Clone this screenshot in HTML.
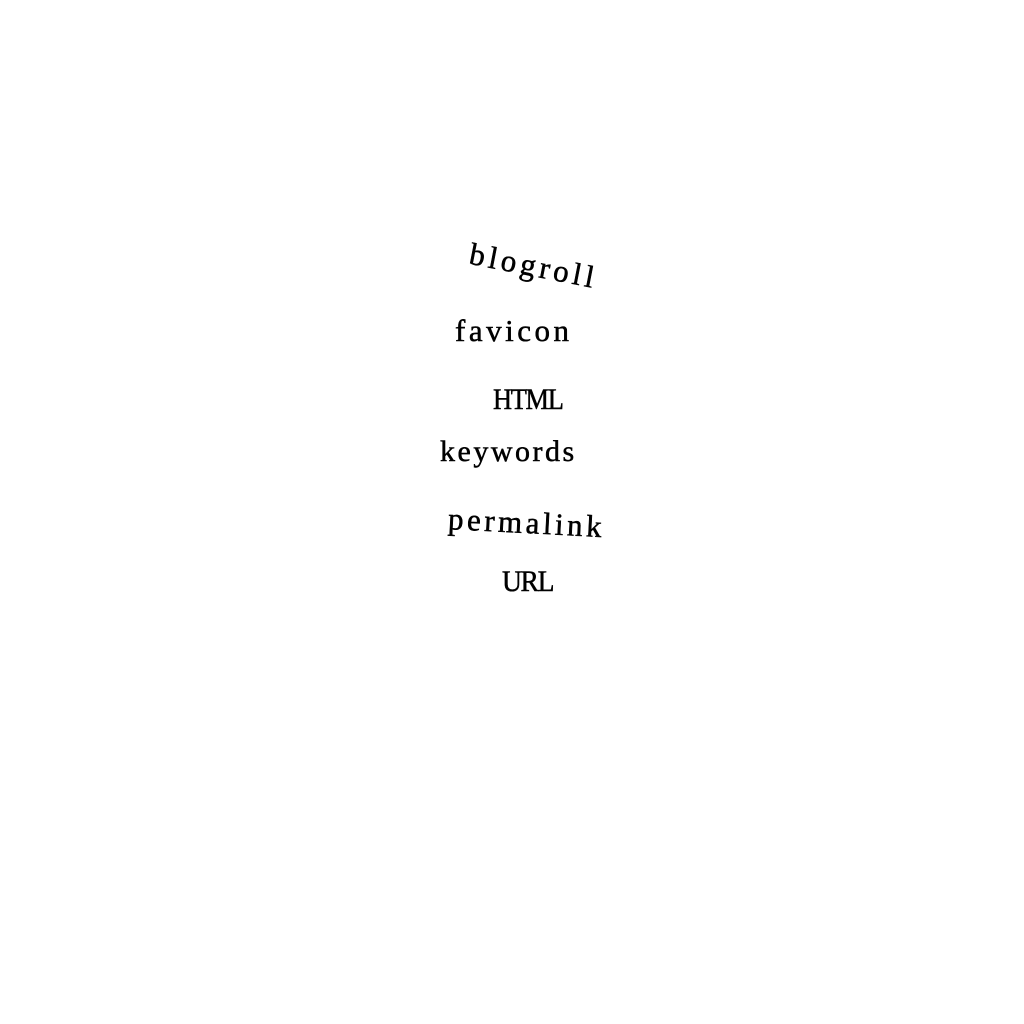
<!DOCTYPE html>
<html><head><style>
html,body{margin:0;padding:0;background:#fff;width:1024px;height:1024px;overflow:hidden}
.t{position:absolute;font-family:"Liberation Serif",serif;color:#000;white-space:nowrap;line-height:1;-webkit-text-stroke:0.5px #000}
</style></head><body>
<div class="t" style="left:473px;top:238px;font-size:31px;letter-spacing:4px;transform:rotate(11deg);transform-origin:left top;">blogroll</div>
<div class="t" style="left:455px;top:315px;font-size:31px;letter-spacing:3.5px;">favicon</div>
<div class="t" style="left:493px;top:385px;font-size:30px;letter-spacing:-1.5px;transform:scaleX(0.88);transform-origin:left top;">HTML</div>
<div class="t" style="left:440px;top:437px;font-size:30px;letter-spacing:2.5px;">keywords</div>
<div class="t" style="left:449px;top:503px;font-size:31px;letter-spacing:3.5px;transform:rotate(3deg);transform-origin:left top;">permalink</div>
<div class="t" style="left:502px;top:567px;font-size:30px;letter-spacing:-1.5px;transform:scaleX(0.92);transform-origin:left top;">URL</div>
</body></html>
